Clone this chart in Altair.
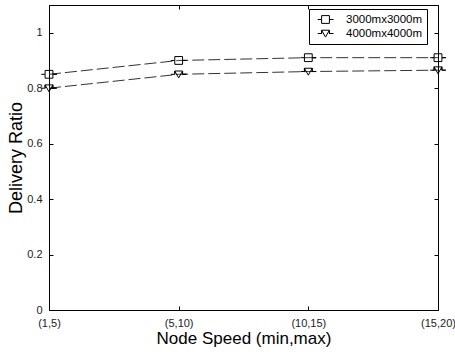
import altair as alt
import pandas as pd

speeds = ["(1,5)", "(5,10)", "(10,15)", "(15,20)"]
series = ["3000mx3000m", "4000mx4000m"]
ratio_3000 = [0.85, 0.90, 0.91, 0.91]
ratio_4000 = [0.80, 0.85, 0.86, 0.865]
y_ticks = [0, 0.2, 0.4, 0.6, 0.8, 1.0]

rows = []
for s, vals in zip(series, [ratio_3000, ratio_4000]):
    for sp, v in zip(speeds, vals):
        rows.append({"speed": sp, "series": s, "ratio": v})
df = pd.DataFrame(rows)

FONT = "Liberation Sans"
xscale = alt.Scale(type="point", padding=0)
yscale = alt.Scale(domain=[0, 1.1], nice=False, zero=True)

base = alt.Chart(df)

lines = base.mark_line(strokeDash=[12, 4], color="#333333", strokeWidth=1).encode(
    x=alt.X("speed:O", sort=speeds, scale=xscale, title="Node Speed (min,max)",
            axis=alt.Axis(orient="bottom", offset=-4, tickSize=4, labelAngle=0,
                          labelPadding=7, titlePadding=2, domain=False, grid=False,
                          labelFontSize=11, titleFontSize=17)),
    y=alt.Y("ratio:Q", scale=yscale, title="Delivery Ratio",
            axis=alt.Axis(orient="left", offset=-4, tickSize=4, values=y_ticks,
                          format="~g", labelPadding=7, titlePadding=1, domain=False,
                          grid=False, labelFontSize=11, titleFontSize=18)),
    detail="series:N",
)

marker_paths = [
    "M-1.3,0L-0.65,0L-0.65,-0.65L0.65,-0.65L0.65,0L1.3,0L0.65,0L0.65,0.65L-0.65,0.65L-0.65,0",
    "M-1.3,0L-0.65,0L-0.65,-0.55L0.65,-0.55L0.65,0L1.3,0L0.65,0L0.65,-0.55L0,0.6L-0.65,-0.55L-0.65,0",
]

points = base.mark_point(filled=False, color="black", size=144, opacity=1, strokeWidth=1).encode(
    x=alt.X("speed:O", sort=speeds, scale=xscale, axis=None),
    y=alt.Y("ratio:Q", scale=yscale, axis=None),
    shape=alt.Shape("series:N", scale=alt.Scale(domain=series, range=marker_paths),
                    legend=alt.Legend(title=None, orient="none", legendX=260, legendY=4,
                                      fillColor="white", strokeColor="black", padding=4,
                                      rowPadding=1, symbolSize=144, symbolStrokeColor="black",
                                      symbolStrokeWidth=1, symbolFillColor="transparent",
                                      symbolOpacity=1,
                                      symbolOffset=6, labelOffset=14, labelFont=FONT,
                                      labelFontSize=11.5, labelColor="black")),
)

frame = base.mark_point(opacity=0).encode(
    x=alt.X("speed:O", sort=speeds, scale=xscale,
            axis=alt.Axis(orient="top", offset=-4, tickSize=4, labels=False, title=None,
                          domain=False, grid=False)),
    y=alt.Y("ratio:Q", scale=yscale,
            axis=alt.Axis(orient="right", offset=-4, tickSize=4, values=y_ticks, labels=False,
                          title=None, domain=False, grid=False)),
)

chart = alt.layer(lines, points, frame).resolve_axis(
    x="independent", y="independent"
).properties(
    width=389, height=305, autosize="none",
    padding={"left": 49, "top": 5, "right": 17, "bottom": 42},
    background="white",
).configure_view(
    stroke="black", strokeWidth=1
).configure_axis(
    labelFont=FONT, titleFont=FONT, labelColor="#222222", titleColor="black",
    tickColor="black", tickWidth=1, titleFontWeight="normal",
)

chart.save("out.html", embed_options={"renderer": "svg", "actions": False})
